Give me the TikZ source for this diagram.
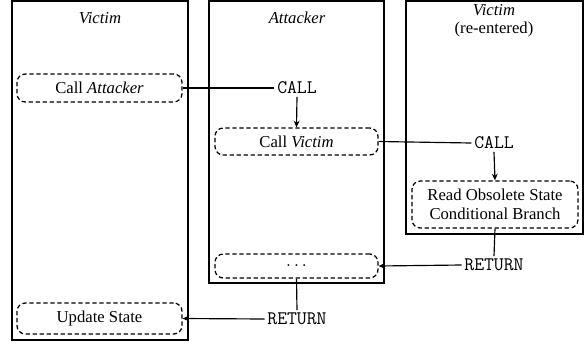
\documentclass[tikz,border=0pt]{standalone}
\usepackage{fontspec}
\setmainfont{Liberation Serif}
\usetikzlibrary{arrows.meta}
\begin{document}
\begin{tikzpicture}[x=0.6pt,y=-0.6pt,
  lane/.style={draw,line width=0.75pt,minimum width=#1,inner sep=0pt},
  stepbox/.style={draw,line width=0.75pt,dash pattern=on 2.6pt off 1.6pt,rounded corners=5pt,align=center,font=\fontsize{10}{11.5}\selectfont,inner sep=0pt},
  lanelabel/.style={align=center,font=\fontsize{10}{10.5}\selectfont},
  op/.style={font=\ttfamily\fontsize{11.5}{12}\selectfont,inner sep=1.5pt},
  conn/.style={line width=0.7pt},
  arr/.style={conn,-{Stealth[length=4pt,width=3.5pt]}}]
\useasboundingbox (0,0) rectangle (588,346);
% lanes
\node[lane=105.6pt,minimum height=203.4pt] (victim) at (100,170.5) {};
\node[lane=105pt,minimum height=169.2pt] (attacker) at (296.5,142) {};
\node[lane=106.2pt,minimum height=139.8pt] (victim2) at (494.5,117.5) {};
\node[lanelabel] (lv) at (100,18) {\itshape Victim};
\node[lanelabel] (la) at (297,18) {\itshape Attacker};
\node[lanelabel] (lv2) at (494,21) {\itshape Victim\\(re-entered)};
% steps
\node[stepbox,minimum width=99pt,minimum height=16.8pt] (callatt) at (99.5,88) {Call \textit{Attacker}};
\node[stepbox,minimum width=97.8pt,minimum height=16.2pt] (callvic) at (296.5,141.5) {Call \textit{Victim}};
\node[stepbox,minimum width=99.6pt,minimum height=28.2pt] (read) at (495,204.5) {Read Obsolete State\\Conditional Branch};
\node[stepbox,minimum width=97.8pt,minimum height=14.4pt] (dots) at (296.5,266) {\ttfamily\fontsize{9}{10}\selectfont ...};
\node[stepbox,minimum width=99pt,minimum height=18.6pt] (update) at (99.5,318.5) {Update State};
% ops
\node[op] (call1) at (297,88) {CALL};
\node[op] (call2) at (494,143) {CALL};
\node[op] (ret1) at (494,265) {RETURN};
\node[op] (ret2) at (297,319) {RETURN};
% connectors
\draw[conn] (callatt.east) -- (call1.west);
\draw[arr] (call1.south) -- (callvic.north);
\draw[conn] (callvic.east) -- (call2.west);
\draw[arr] (call2.south) -- (read.north);
\draw[conn] (read.south) -- (ret1.north);
\draw[arr] (ret1.west) -- (dots.east);
\draw[conn] (dots.south) -- (ret2.north);
\draw[arr] (ret2.west) -- (update.east);
\end{tikzpicture}
\end{document}
